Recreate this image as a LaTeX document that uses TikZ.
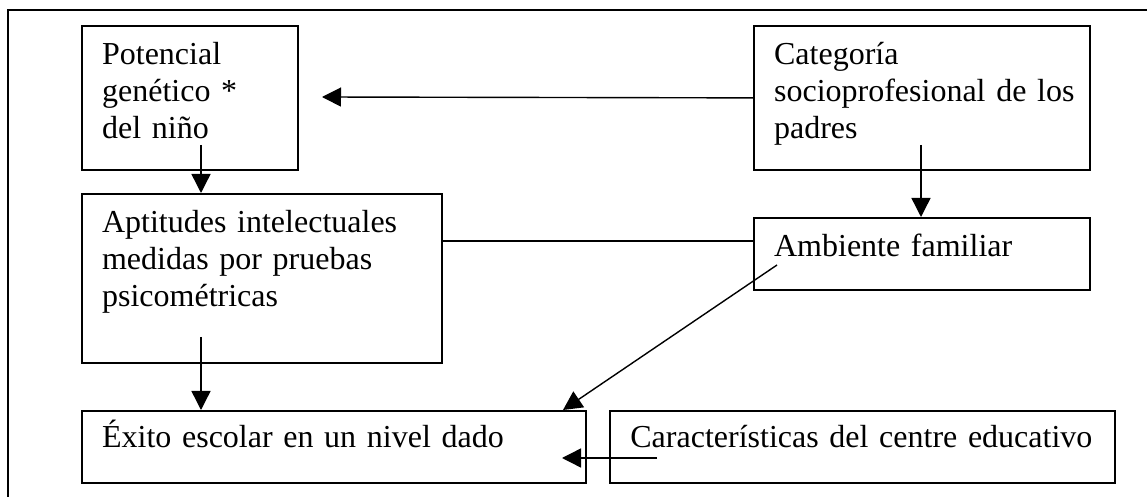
\documentclass[tikz,border=0pt]{standalone}
\usepackage{fontspec}
\setmainfont{Liberation Serif}
\usetikzlibrary{arrows.meta,calc}
\begin{document}
\begin{tikzpicture}[x=0.5pt,y=-0.5pt,
  box/.style={draw, line width=0.9pt, inner sep=0pt, anchor=north west},
  txt/.style={anchor=base west, inner sep=0pt, align=left, text width=240pt, font=\fontsize{16pt}{18.5pt}\selectfont},
  arr/.style={line width=0.7pt, -{Triangle[width=9.5pt,length=9.5pt]}},
  conn/.style={line width=0.7pt},
  framestyle/.style={line width=0.9pt}]
\useasboundingbox (0,0) rectangle (1147,497);
% outer frame (only top and left edges are visible)
\draw[framestyle] (8,497) -- (8,10) -- (1147,10);

% boxes
\node[box, minimum width=108pt, minimum height=72pt] (b1) at (81,25) {};
\node[box, minimum width=168pt, minimum height=72pt] (b2) at (753,25) {};
\node[box, minimum width=180pt, minimum height=84.5pt] (b3) at (81,193) {};
\node[box, minimum width=168pt, minimum height=36pt] (b4) at (753,217) {};
\node[box, minimum width=252pt, minimum height=36pt] (b5) at (81,410) {};
\node[box, minimum width=252.5pt, minimum height=36pt] (b6) at (609,410) {};

% texts
\node[txt] (t1) at (101.7,65) {Potencial\\genético *\\del niño};
\node[txt] (t2) at (773.7,65) {Categoría\\socioprofesional de los\\padres};
\node[txt] (t3) at (101.7,233) {Aptitudes intelectuales\\medidas por pruebas\\psicométricas};
\node[txt] (t4) at (773.7,257) {Ambiente familiar};
\node[txt] (t5) at (101.7,448) {Éxito escolar en un nivel dado};
\node[txt] (t6) at (630,448) {Características del centre educativo};

% connector start / end points
\coordinate (c1) at (201,145);
\coordinate (e2) at (322,97);
\coordinate (c3) at (921,145);
\coordinate (c4) at (201,337);
\coordinate (c5) at (777,265);
\coordinate (c6) at (657,458);
\coordinate (e6) at (562,458);

% connectors
\draw[arr] (c1) -- (c1 |- b3.north);
\draw[arr] (b2.west) -- (e2);
\draw[arr] (c3) -- (c3 |- b4.north);
\draw[conn] ($(b3.north east)+(0,48)$) -- ($(b4.north west)+(0,24)$);
\draw[arr] (c4) -- (c4 |- b5.north);
\draw[arr] (c5) -- ($(b5.north west)+(482,0)$);
\draw[arr] (c6) -- (e6);
\end{tikzpicture}
\end{document}
